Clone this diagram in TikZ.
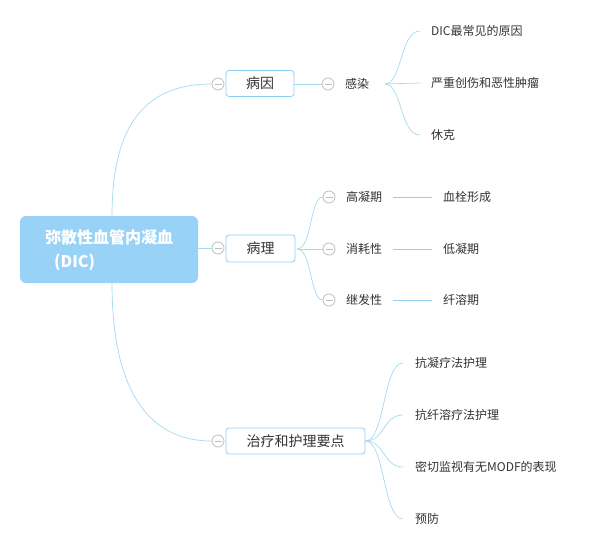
\documentclass[tikz,border=0pt]{standalone}
\usepackage{fontspec}
\setmainfont{Noto Sans CJK SC}
\definecolor{rootfill}{RGB}{153,210,247}
\definecolor{boxline}{RGB}{140,206,245}
\definecolor{branch}{RGB}{165,218,242}
\definecolor{straight}{RGB}{150,205,240}
\definecolor{txt}{RGB}{51,51,51}
\definecolor{knob}{RGB}{190,190,190}
\tikzset{
  rootbox/.style={fill=rootfill, rounded corners=6pt, minimum width=178pt, minimum height=67pt, inner sep=0pt},
  roottext/.style={text=white, font=\fontsize{16}{18}\selectfont\bfseries, inner sep=0pt, anchor=west},
  topicbox/.style={draw=boxline, line width=0.8pt, fill=white, rounded corners=3pt, minimum height=26pt, inner sep=0pt, text=txt, font=\fontsize{14}{16}\selectfont},
  knobc/.style={circle, draw=knob, line width=0.8pt, fill=white, minimum size=12pt, inner sep=0pt,
    path picture={\draw[knob, line width=0.8pt] ([xshift=-3.5pt]path picture bounding box.center) -- ([xshift=3.5pt]path picture bounding box.center);}},
  subtext/.style={text=txt, font=\fontsize{12}{14}\selectfont, inner ysep=2pt},
  leaf/.style={text=txt, font=\fontsize{12}{14}\selectfont, anchor=west, inner ysep=2pt},
  conn/.style={draw=branch, line width=0.7pt},
  sconn/.style={draw=straight, line width=0.7pt},
}
\begin{document}
\begin{tikzpicture}[x=1pt,y=-1pt]
\useasboundingbox (0,0) rectangle (592,551);
% root
\node[rootbox] (root) at (109,249.5) {};
\node[roottext] (rt1) at (45,237) {弥散性血管内凝血};
\node[roottext] (rt2) at (54,262) {(DIC)};
% knobs for main topics
\node[knobc] (k1) at (218,84) {};
\node[knobc] (k2) at (218,248) {};
\node[knobc] (k3) at (218,441) {};
% main topics
\node[topicbox, minimum width=68pt] (t1) at (260,83.5) {病因};
\node[topicbox, minimum width=69pt, minimum height=27pt] (t2) at (260.5,248.5) {病理};
\node[topicbox, minimum width=139pt] (t3) at (295.5,441) {治疗和护理要点};
% root connectors
\coordinate (rtop) at (112,216);
\coordinate (rbot) at (112,283);
\draw[conn] (rtop) .. controls (112,125) and (145,84) .. (k1.west);
\draw[conn] (rbot) .. controls (112,385) and (145,441) .. (k3.west);
\draw[conn] (root.east |- k2) -- (k2.west);
% cause branch
\node[knobc] (k4) at (328,84) {};
\draw[conn] (t1.east |- k4) -- (k4.west);
\node[subtext, anchor=west, inner xsep=0pt] (gan) at (345,84) {感染};
\coordinate (ganR) at (385,84);
\node[leaf, inner xsep=11pt] (c1) at (420,31) {DIC最常见的原因};
\node[leaf, inner xsep=11pt] (c2) at (420,83) {严重创伤和恶性肿瘤};
\node[leaf, inner xsep=11pt] (c3) at (420,135) {休克};
\draw[conn] (ganR) .. controls (402,84) and (400,31) .. (c1.west);
\draw[conn] (ganR) -- (c2.west);
\draw[conn] (ganR) .. controls (402,84) and (400,135) .. (c3.west);
% pathology branch
\node[knobc] (k5) at (329,197) {};
\node[knobc] (k6) at (329,249) {};
\node[knobc] (k7) at (329,300) {};
\coordinate (t2R) at (297,249);
\draw[conn] (t2R) .. controls (312,249) and (310,197) .. (k5.west);
\draw[conn] (t2R) -- (k6.west);
\draw[conn] (t2R) .. controls (312,249) and (310,300) .. (k7.west);
\node[subtext, anchor=west, inner xsep=11pt] (p1) at (335,197) {高凝期};
\node[subtext, anchor=west, inner xsep=11pt] (p2) at (335,249) {消耗性};
\node[subtext, anchor=west, inner xsep=11pt] (p3) at (335,300) {继发性};
\node[leaf, inner xsep=11pt] (q1) at (432,197) {血栓形成};
\node[leaf, inner xsep=11pt] (q2) at (432,249) {低凝期};
\node[leaf, inner xsep=11pt] (q3) at (432,300) {纤溶期};
\draw[sconn] (p1.east) -- (q1.west);
\draw[sconn] (p2.east) -- (q2.west);
\draw[sconn] (p3.east) -- (q3.west);
% treatment branch
\node[leaf, inner xsep=12pt] (r1) at (403,363) {抗凝疗法护理};
\node[leaf, inner xsep=12pt] (r2) at (403,415) {抗纤溶疗法护理};
\node[leaf, inner xsep=12pt] (r3) at (403,467) {密切监视有无MODF的表现};
\node[leaf, inner xsep=12pt] (r4) at (403,519) {预防};
\draw[conn] (t3.east) .. controls (385,441) and (383,363) .. (r1.west);
\draw[conn] (t3.east) .. controls (385,441) and (383,415) .. (r2.west);
\draw[conn] (t3.east) .. controls (385,441) and (383,467) .. (r3.west);
\draw[conn] (t3.east) .. controls (385,441) and (383,519) .. (r4.west);
\end{tikzpicture}
\end{document}
